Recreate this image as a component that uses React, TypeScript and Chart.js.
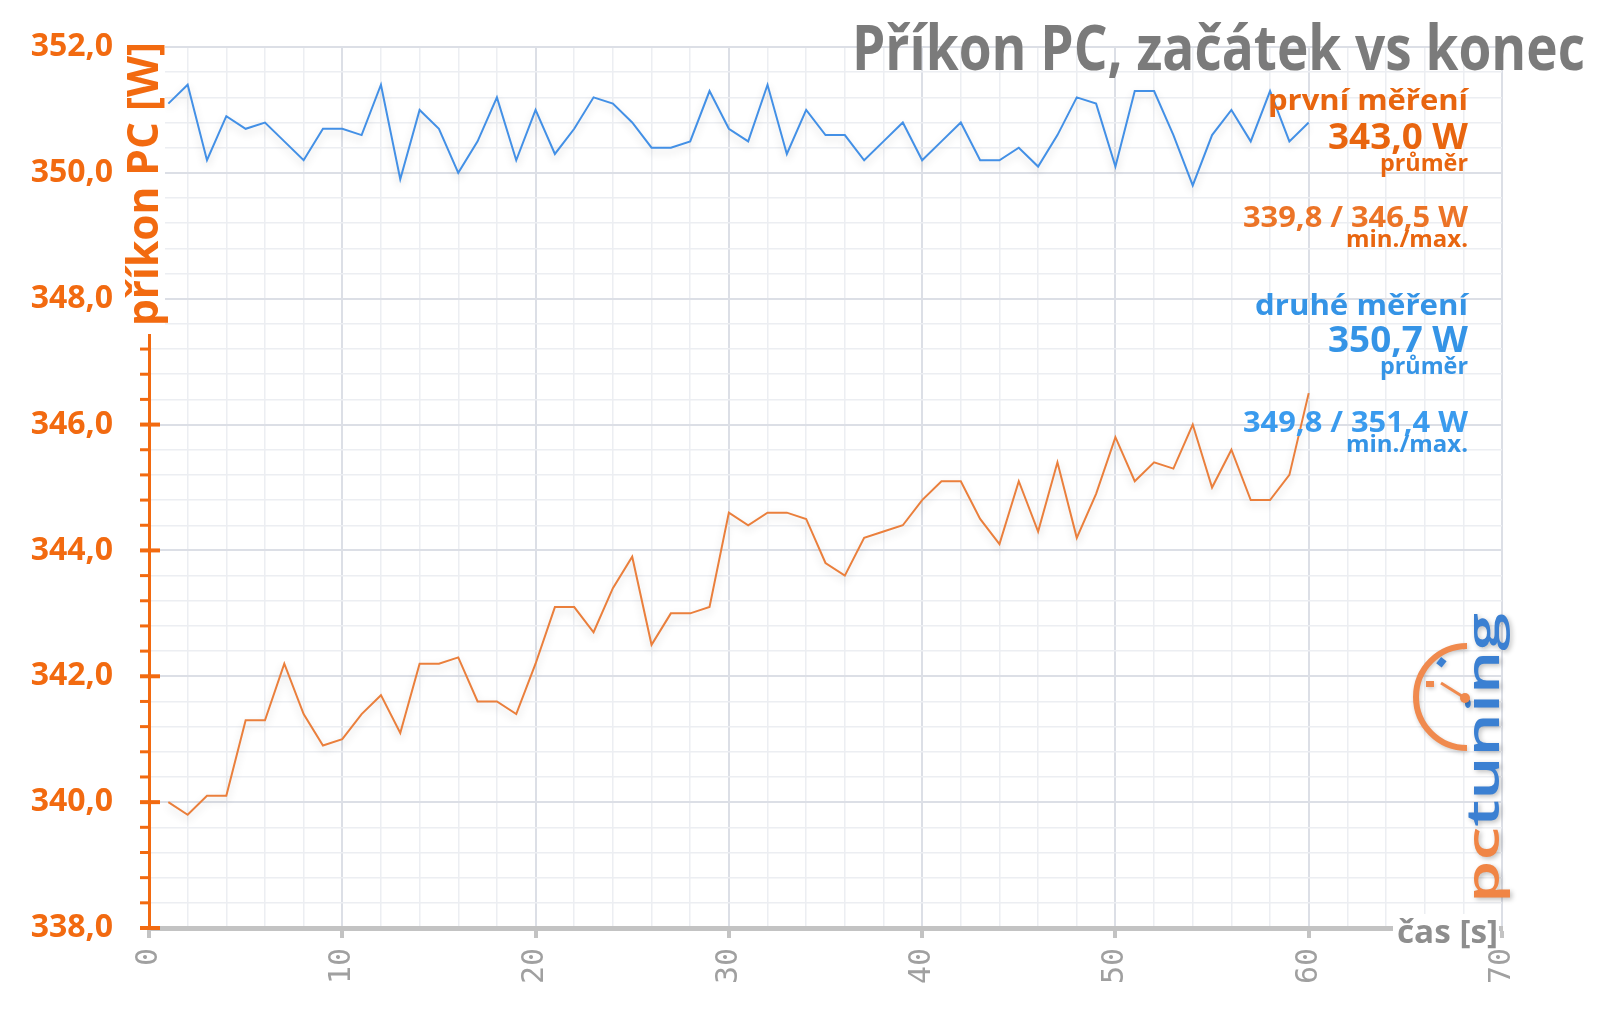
import React, { useEffect, useRef } from 'react';
import { Chart, registerables } from 'chart.js';

Chart.register(...registerables);

// ---- data ----
const seconds = [
  1, 2, 3, 4, 5, 6, 7, 8, 9, 10, 11, 12, 13, 14, 15, 16, 17, 18, 19, 20,
  21, 22, 23, 24, 25, 26, 27, 28, 29, 30, 31, 32, 33, 34, 35, 36, 37, 38, 39, 40,
  41, 42, 43, 44, 45, 46, 47, 48, 49, 50, 51, 52, 53, 54, 55, 56, 57, 58, 59, 60,
];

const firstRun = [
  340.0, 339.8, 340.1, 340.1, 341.3, 341.3, 342.2, 341.4, 340.9, 341.0,
  341.4, 341.7, 341.1, 342.2, 342.2, 342.3, 341.6, 341.6, 341.4, 342.2,
  343.1, 343.1, 342.7, 343.4, 343.9, 342.5, 343.0, 343.0, 343.1, 344.6,
  344.4, 344.6, 344.6, 344.5, 343.8, 343.6, 344.2, 344.3, 344.4, 344.8,
  345.1, 345.1, 344.5, 344.1, 345.1, 344.3, 345.4, 344.2, 344.9, 345.8,
  345.1, 345.4, 345.3, 346.0, 345.0, 345.6, 344.8, 344.8, 345.2, 346.5,
];

const secondRun = [
  351.1, 351.4, 350.2, 350.9, 350.7, 350.8, 350.5, 350.2, 350.7, 350.7,
  350.6, 351.4, 349.9, 351.0, 350.7, 350.0, 350.5, 351.2, 350.2, 351.0,
  350.3, 350.7, 351.2, 351.1, 350.8, 350.4, 350.4, 350.5, 351.3, 350.7,
  350.5, 351.4, 350.3, 351.0, 350.6, 350.6, 350.2, 350.5, 350.8, 350.2,
  350.5, 350.8, 350.2, 350.2, 350.4, 350.1, 350.6, 351.2, 351.1, 350.1,
  351.3, 351.3, 350.6, 349.8, 350.6, 351.0, 350.5, 351.3, 350.5, 350.8,
];

const yRange = [338, 352];
const xRange = [0, 70];

const chartTitle = 'Příkon PC, začátek vs konec';
const yAxisTitle = 'příkon PC [W]';
const xAxisTitle = 'čas [s]';
const firstLegend = ['první měření', '343,0 W', 'průměr', '339,8 / 346,5 W', 'min./max.'];
const secondLegend = ['druhé měření', '350,7 W', 'průměr', '349,8 / 351,4 W', 'min./max.'];
const logoParts = ['pc', 'tuning'];

// ---- styles ----
const ORANGE_AXIS = '#f26a10';
const ORANGE_TEXT = '#e8650f';
const ORANGE_TEXT2 = '#ec7427';
const BLUE_TEXT = '#3594e6';
const BLUE_TEXT2 = '#3a9bee';
const ORANGE_LINE = '#ea7f3c';
const BLUE_LINE = '#4390e6';
const FONT = '"Open Sans", "DejaVu Sans", sans-serif';

const isMajorY = (v: number) => Math.abs(v / 2 - Math.round(v / 2)) < 1e-6;
const isMajorX = (v: number) => Math.abs(v / 10 - Math.round(v / 10)) < 1e-6;

function fitText(
  ctx: CanvasRenderingContext2D,
  text: string,
  x: number,
  y: number,
  size: number,
  width: number,
  color: string,
  align: CanvasTextAlign = 'right',
) {
  ctx.save();
  ctx.font = `bold ${size}px ${FONT}`;
  const w = ctx.measureText(text).width;
  ctx.translate(x, y);
  ctx.scale(width / w, 1);
  ctx.textAlign = align;
  ctx.textBaseline = 'alphabetic';
  ctx.fillStyle = color;
  ctx.fillText(text, 0, 0);
  ctx.restore();
}

const decorPlugin = {
  id: 'decor',
  beforeDatasetsDraw(chart: any) {
    const ctx: CanvasRenderingContext2D = chart.ctx;
    const y = chart.scales.y;
    const left = chart.chartArea.left;
    ctx.save();
    ctx.strokeStyle = ORANGE_AXIS;
    y.ticks.forEach((t: any) => {
      const py = y.getPixelForValue(t.value);
      const major = isMajorY(t.value);
      ctx.lineWidth = major ? 4 : 3;
      ctx.beginPath();
      ctx.moveTo(left - 9, py);
      ctx.lineTo(major ? left + 11 : left, py);
      ctx.stroke();
    });
    ctx.restore();
  },
  beforeDatasetDraw(chart: any) {
    const ctx: CanvasRenderingContext2D = chart.ctx;
    ctx.save();
    ctx.shadowColor = 'rgba(0,0,0,0.16)';
    ctx.shadowBlur = 8;
    ctx.shadowOffsetY = 4;
  },
  afterDatasetDraw(chart: any) {
    chart.ctx.restore();
  },
  afterDraw(chart: any) {
    const ctx: CanvasRenderingContext2D = chart.ctx;
    const area = chart.chartArea;

    // y-axis title with white backing
    ctx.save();
    ctx.fillStyle = '#ffffff';
    ctx.fillRect(area.left - 25, area.top - 10, 41, 297);
    ctx.restore();
    ctx.save();
    ctx.translate(area.left + 9, area.top + 137);
    ctx.rotate(-Math.PI / 2);
    fitText(ctx, yAxisTitle, 0, 0, 43, 284, ORANGE_AXIS, 'center');
    ctx.restore();

    // x-axis title with white backing
    ctx.save();
    ctx.fillStyle = '#ffffff';
    ctx.fillRect(area.right - 109, area.bottom - 14, 106, 36);
    ctx.restore();
    fitText(ctx, xAxisTitle, area.right - 4, area.bottom + 15, 32, 101, '#8e8e8e');

    // main title
    fitText(ctx, chartTitle, 1585, 70, 62, 733, '#7b7b7b');

    // legends
    const rx = 1468;
    fitText(ctx, firstLegend[0], rx, 110, 28, 200, ORANGE_TEXT);
    fitText(ctx, firstLegend[1], rx, 149, 35, 140, ORANGE_TEXT);
    fitText(ctx, firstLegend[2], rx, 171, 24, 88, ORANGE_TEXT);
    fitText(ctx, firstLegend[3], rx, 227, 29, 225, ORANGE_TEXT2);
    fitText(ctx, firstLegend[4], rx, 247, 24, 122, ORANGE_TEXT);
    fitText(ctx, secondLegend[0], rx, 315, 28, 213, BLUE_TEXT);
    fitText(ctx, secondLegend[1], rx, 352, 35, 140, BLUE_TEXT);
    fitText(ctx, secondLegend[2], rx, 374, 24, 88, BLUE_TEXT);
    fitText(ctx, secondLegend[3], rx, 432, 29, 225, BLUE_TEXT2);
    fitText(ctx, secondLegend[4], rx, 452, 24, 122, BLUE_TEXT);

    // logo
    ctx.save();
    ctx.shadowColor = 'rgba(0,0,0,0.25)';
    ctx.shadowBlur = 5;
    ctx.shadowOffsetX = 2;
    ctx.shadowOffsetY = 2;
    ctx.translate(1499, 903);
    ctx.rotate(-Math.PI / 2);
    ctx.font = `600 46px ${FONT}`;
    const w1 = ctx.measureText(logoParts[0]).width;
    const w2 = ctx.measureText(logoParts[1]).width;
    ctx.scale(290 / (w1 + w2), 1);
    ctx.textAlign = 'left';
    ctx.textBaseline = 'alphabetic';
    ctx.fillStyle = '#f08545';
    ctx.fillText(logoParts[0], 0, 0);
    ctx.fillStyle = '#3b80d2';
    ctx.fillText(logoParts[1], w1, 0);
    ctx.restore();

    ctx.save();
    ctx.shadowColor = 'rgba(0,0,0,0.2)';
    ctx.shadowBlur = 4;
    ctx.shadowOffsetX = 1;
    ctx.shadowOffsetY = 2;
    ctx.strokeStyle = '#f08a4e';
    ctx.lineWidth = 6;
    ctx.beginPath();
    ctx.arc(1467, 697, 51, -Math.PI / 2, Math.PI / 2, true);
    ctx.stroke();
    ctx.lineWidth = 3;
    ctx.beginPath();
    ctx.moveTo(1441, 683);
    ctx.lineTo(1465, 698);
    ctx.stroke();
    ctx.fillStyle = '#f08a4e';
    ctx.beginPath();
    ctx.arc(1465, 698, 5, 0, Math.PI * 2);
    ctx.fill();
    ctx.fillRect(1426, 681, 8, 6);
    ctx.fillStyle = '#3b80d2';
    ctx.save();
    ctx.translate(1441, 662);
    ctx.rotate(-0.9);
    ctx.fillRect(-4, -3, 8, 7);
    ctx.restore();
    ctx.restore();
  },
};

export default function App() {
  const canvasRef = useRef<HTMLCanvasElement | null>(null);

  useEffect(() => {
    if (!canvasRef.current) return;
    const chart = new Chart(canvasRef.current, {
      type: 'line',
      data: {
        datasets: [
          {
            label: 'první měření',
            data: seconds.map((s, i) => ({ x: s, y: firstRun[i] })),
            borderColor: ORANGE_LINE,
            borderWidth: 2,
            pointRadius: 0,
            tension: 0,
            fill: false,
          },
          {
            label: 'druhé měření',
            data: seconds.map((s, i) => ({ x: s, y: secondRun[i] })),
            borderColor: BLUE_LINE,
            borderWidth: 2,
            pointRadius: 0,
            tension: 0,
            fill: false,
          },
        ],
      },
      options: {
        animation: false,
        responsive: false,
        devicePixelRatio: 1,
        layout: { padding: { top: 47, right: 98, left: 0, bottom: 0 } },
        plugins: {
          legend: { display: false },
          tooltip: { enabled: false },
          title: { display: false },
        },
        scales: {
          x: {
            type: 'linear',
            min: xRange[0],
            max: xRange[1],
            afterFit: (s: any) => {
              s.height = 83;
              s.paddingLeft = 0;
              s.paddingRight = 0;
            },
            ticks: {
              stepSize: 2,
              autoSkip: false,
              minRotation: 90,
              maxRotation: 90,
              padding: 10,
              color: '#a0a0a0',
              font: { family: '"DejaVu Sans Mono", monospace', size: 30 },
              callback: (v: any) => (isMajorX(Number(v)) ? String(v) : ''),
            },
            grid: {
              color: (c: any) => (c.tick && isMajorX(c.tick.value) ? '#dcdfe6' : '#eceef2'),
              lineWidth: (c: any) => (c.tick && isMajorX(c.tick.value) ? 2 : 1.5),
              drawTicks: true,
              tickLength: 10,
              tickColor: (c: any) => (c.tick && isMajorX(c.tick.value) ? '#c3c3c3' : 'rgba(0,0,0,0)'),
              tickWidth: 4,
            },
            border: { color: '#c3c3c3', width: 5 },
          },
          y: {
            type: 'linear',
            min: yRange[0],
            max: yRange[1],
            afterFit: (s: any) => {
              s.width = 149;
              s.paddingTop = 0;
              s.paddingBottom = 0;
            },
            ticks: {
              stepSize: 0.4,
              autoSkip: false,
              padding: 36,
              color: ORANGE_AXIS,
              font: { family: FONT, weight: 'bold', size: 32 },
              callback: (v: any) =>
                isMajorY(Number(v)) ? Number(v).toFixed(1).replace('.', ',') : '',
            },
            grid: {
              drawTicks: false,
              color: (c: any) => (c.tick && isMajorY(c.tick.value) ? '#dcdfe6' : '#eceef2'),
              lineWidth: (c: any) => (c.tick && isMajorY(c.tick.value) ? 2 : 1.5),
            },
            border: { color: ORANGE_AXIS, width: 3 },
          },
        },
      },
      plugins: [decorPlugin],
    });
    return () => chart.destroy();
  }, []);

  return (
    <div style={{ position: 'absolute', left: 0, top: 0, width: 1600, height: 1011, background: '#fff' }}>
      <canvas ref={canvasRef} width={1600} height={1011} style={{ display: 'block' }} />
    </div>
  );
}
